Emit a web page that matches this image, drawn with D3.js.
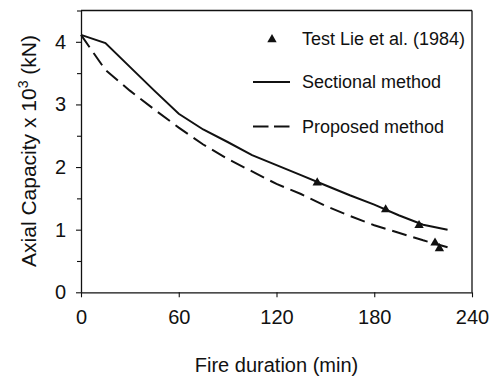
<!DOCTYPE html>
<html><head><meta charset="utf-8">
<script src="https://cdn.jsdelivr.net/npm/d3@7"></script>
<style>body{margin:0;background:#fff}svg{display:block}text{font-family:"Liberation Sans",Arial,sans-serif;fill:#111}</style>
</head><body><svg id="c" width="492" height="379"></svg>
<script>
const timeX = [0,15,30,45,60,75,90,105,120,135,150,165,180,195,210,225];
const sectional = [4.11,3.98,3.60,3.22,2.85,2.60,2.40,2.19,2.03,1.87,1.71,1.55,1.40,1.23,1.08,1.00];
const proposed = [4.11,3.55,3.22,2.92,2.63,2.36,2.13,1.93,1.73,1.57,1.38,1.22,1.07,0.95,0.83,0.72];
const testX = [145,187,207.5,217.3,220];
const testY = [1.75,1.32,1.07,0.79,0.70];
const xTicks = [0,60,120,180,240];
const yTicks = [0,1,2,3,4];
const yMinor = [0.5,1.5,2.5,3.5,4.5];
const legendLabels = ["Test Lie et al. (1984)","Sectional method","Proposed method"];

const svg = d3.select("#c");
const L=81,R=472,T=10.5,B=292.3;
const x = d3.scaleLinear().domain([0,240]).range([L,R]);
const y = d3.scaleLinear().domain([0,4.5]).range([B,T]);
const ink="#111";

svg.append("line").attr("x1",L).attr("x2",R).attr("y1",T).attr("y2",T).attr("stroke",ink).attr("stroke-width",1.3);
svg.append("line").attr("x1",R).attr("x2",R).attr("y1",T).attr("y2",B).attr("stroke",ink).attr("stroke-width",1.3);

svg.append("g").attr("transform",`translate(0,${B})`)
  .call(d3.axisBottom(x).tickValues(xTicks).tickFormat(d3.format("d")).tickSize(5).tickPadding(13).tickSizeOuter(0));
svg.append("g").attr("transform",`translate(${L},0)`)
  .call(d3.axisLeft(y).tickValues(yTicks).tickFormat(d3.format("d")).tickSize(5).tickPadding(10).tickSizeOuter(0));
svg.append("g").attr("transform",`translate(${L},0)`)
  .call(d3.axisLeft(y).tickValues(yMinor).tickSize(4).tickFormat("").tickSizeOuter(0))
  .select(".domain").remove();
svg.selectAll(".domain").attr("stroke",ink).attr("stroke-width",1.3);
svg.selectAll(".tick line").attr("stroke",ink).attr("stroke-width",1.1);
svg.selectAll(".tick text").attr("font-size",20).attr("font-family",'"Liberation Sans",Arial,sans-serif').attr("fill",ink);

const line = d3.line().x((d,i)=>x(timeX[i])).y(d=>y(d));
svg.append("path").datum(sectional).attr("d",line).attr("fill","none").attr("stroke",ink).attr("stroke-width",2);
svg.append("path").datum(proposed).attr("d",line).attr("fill","none").attr("stroke",ink).attr("stroke-width",2).attr("stroke-dasharray","15,7");

const tri = d3.symbol().type(d3.symbolTriangle).size(38);
svg.selectAll(".pt").data(testX).enter().append("path")
  .attr("d",tri).attr("transform",(d,i)=>`translate(${x(d)},${y(testY[i])})`).attr("fill",ink);

const lg = svg.append("g");
lg.append("path").attr("d",tri).attr("transform","translate(272,39.5)").attr("fill",ink);
lg.append("line").attr("x1",253).attr("x2",290).attr("y1",82).attr("y2",82).attr("stroke",ink).attr("stroke-width",2);
lg.append("line").attr("x1",253).attr("x2",290).attr("y1",126.5).attr("y2",126.5).attr("stroke",ink).attr("stroke-width",2).attr("stroke-dasharray","15.5,5.5");
const ly=[39,82,126.5];
legendLabels.forEach((t,i)=>{
  lg.append("text").attr("x",302).attr("y",ly[i]).attr("dy","0.35em").attr("font-size",18).text(t);
});

svg.append("text").attr("x",(L+R)/2).attr("y",372).attr("text-anchor","middle").attr("font-size",20).text("Fire duration (min)");
const yt = svg.append("text").attr("transform",`translate(35,151) rotate(-90)`).attr("font-size",21);
yt.append("tspan").text("Axial Capacity x 10");
yt.append("tspan").attr("font-size",14).attr("dy",-8).text("3");
yt.append("tspan").attr("dy",8).text(" (kN)");
const bb = yt.node().getBBox();
yt.attr("transform",`translate(35.5,${151 + bb.width/2}) rotate(-90)`);
</script></body></html>
